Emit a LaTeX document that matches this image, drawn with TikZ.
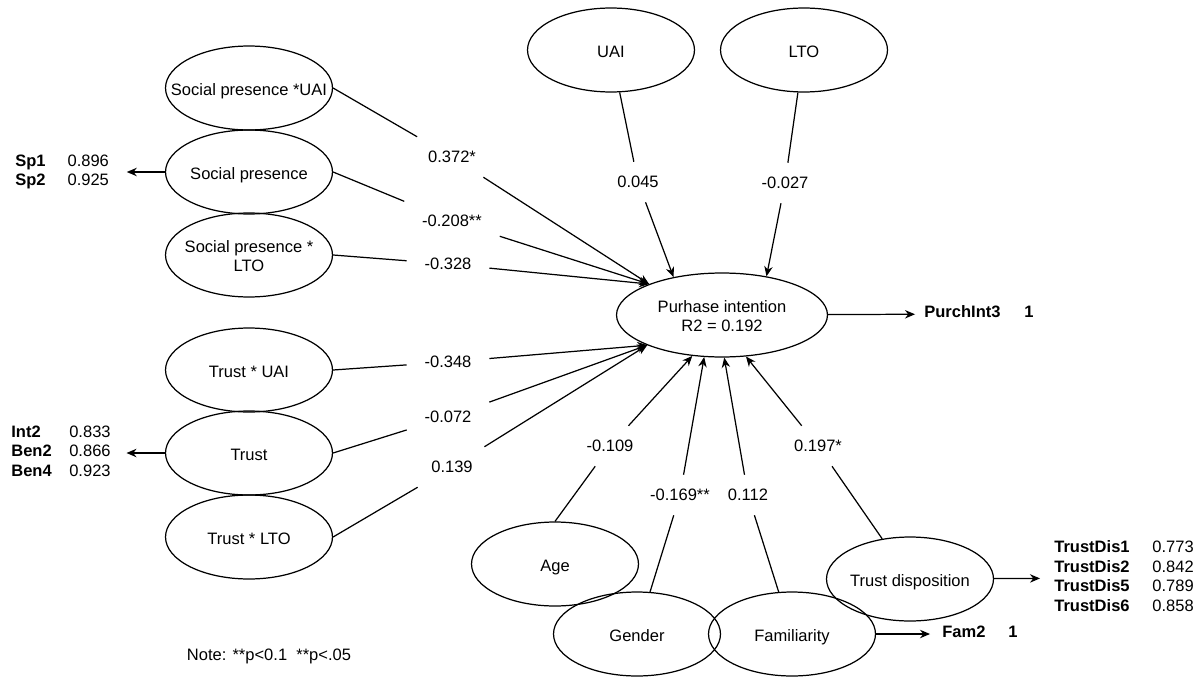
\documentclass[tikz,border=0pt]{standalone}
\usepackage{fontspec}
\setmainfont{Liberation Sans}
\usetikzlibrary{shapes.geometric,arrows.meta}

\newcommand{\elltext}[1]{\makebox[0pt]{\raisebox{-4pt}[0pt][0pt]{\begin{tabular}{@{}c@{}}#1\end{tabular}}}}

\tikzset{
  latent/.style={ellipse, draw, line width=0.7pt, inner sep=0pt, minimum width=3.34cm, minimum height=1.68cm},
  coef/.style={inner xsep=10pt, inner ysep=8pt},
  link/.style={line width=0.7pt},
  linkarr/.style={line width=0.7pt, -{Stealth[length=5.7pt,width=4.8pt]}},
  ind/.style={inner sep=0pt, anchor=west}
}

\begin{document}
\begin{tikzpicture}[x=0.02cm, y=-0.02cm, font=\fontsize{9.4}{11.3}\selectfont]
        \useasboundingbox (0,0) rectangle (1203,679);
        % constructs
        \node [latent] (spu) at (249,88)  {\elltext{Social presence *UAI}};       %
        \node [latent] (sp)  at (249,172) {\elltext{Social presence}};            %
        \node [latent] (spl) at (249,255) {\elltext{Social presence *\\LTO}};     %
        \node [latent] (tu)  at (249,370) {\elltext{Trust * UAI}};                %
        \node [latent] (tr)  at (249,453) {\elltext{Trust}};                      %
        \node [latent] (tl)  at (249,537) {\elltext{Trust * LTO}};                %
        \node [latent] (uai) at (611,50)  {\elltext{UAI}};                        %
        \node [latent] (lto) at (804,50)  {\elltext{LTO}};                        %
        \node [latent, minimum width=4.22cm] (pi) at (722,315) {\elltext{Purhase intention\\R2 = 0.192}};
        \node [latent] (age) at (555,564) {\elltext{Age}};                        %
        \node [latent] (gen) at (637,634) {\elltext{Gender}};                     %
        \node [latent] (fam) at (792,634) {\elltext{Familiarity}};                %
        \node [latent] (td)  at (910,579) {\elltext{Trust disposition}};          %

        % indicators
        \node [ind] (spind) at (15,172)   {\begin{tabular}{@{}l@{\hspace{12.5pt}}l@{}}\textbf{Sp1}&0.896\\\textbf{Sp2}&0.925\end{tabular}};
        \node [ind] (trind) at (11,453)   {\begin{tabular}{@{}l@{\hspace{10pt}}l@{}}\textbf{Int2}&0.833\\\textbf{Ben2}&0.866\\\textbf{Ben4}&0.923\end{tabular}};
        \node [ind] (piind) at (924,314)  {\begin{tabular}{@{}l@{\hspace{13.5pt}}l@{}}\textbf{PurchInt3}&\textbf{1}\end{tabular}};
        \node [ind] (faind) at (942,634)  {\begin{tabular}{@{}l@{\hspace{13pt}}l@{}}\textbf{Fam2}&\textbf{1}\end{tabular}};
        \node [ind] (tdind) at (1054,578) {\begin{tabular}{@{}l@{\hspace{13pt}}l@{}}\textbf{TrustDis1}&0.773\\\textbf{TrustDis2}&0.842\\\textbf{TrustDis5}&0.789\\\textbf{TrustDis6}&0.858\end{tabular}};
        \draw [linkarr, shorten >=0.35cm] (sp) -- (spind);                       %
        \draw [linkarr, shorten >=0.31cm] (tr) -- (trind);                       %
        \draw [linkarr, shorten >=0.18cm] (pi) -- (piind);                       %
        \draw [linkarr, shorten >=0.24cm] (fam) -- (faind);                      %
        \draw [linkarr, shorten >=0.28cm] (td) -- (tdind);                       %

        % path coefficients
        \node [coef] (cspu) at (452,157) {0.372*};                              %
        \node [coef] (csp)  at (452,221) {-0.208**};                            %
        \node [coef] (cspl) at (448,264) {-0.328};                              %
        \node [coef] (ctu)  at (448,362) {-0.348};                              %
        \node [coef] (ctr)  at (448,417) {-0.072};                              %
        \node [coef] (ctl)  at (452,467) {0.139};                               %
        \node [coef] (cuai) at (638,182) {0.045};                               %
        \node [coef] (clto) at (785,183) {-0.027};                              %
        \node [coef] (cage) at (610,446) {-0.109};                              %
        \node [coef] (cgen) at (680,495) {-0.169**};                            %
        \node [coef] (cfam) at (748,495) {0.112};                               %
        \node [coef] (ctd)  at (818,446) {0.197*};                              %

        \draw [link] (spu.east) -- (cspu);  \draw [linkarr] (cspu) -- (pi.157); %
        \draw [link] (sp.east)  -- (csp);   \draw [linkarr] (csp)  -- (pi.157); %
        \draw [link] (spl.east) -- (cspl);  \draw [linkarr] (cspl) -- (pi.157); %
        \draw [link] (tu.east)  -- (ctu);   \draw [linkarr] (ctu)  -- (pi.202); %
        \draw [link] (tr.east)  -- (ctr);   \draw [linkarr] (ctr)  -- (pi.202); %
        \draw [link] (tl.east)  -- (ctl);   \draw [linkarr] (ctl)  -- (pi.202); %
        \draw [link] (uai)      -- (cuai);  \draw [linkarr] (cuai) -- (pi.142); %
        \draw [link] (lto)      -- (clto);  \draw [linkarr] (clto) -- (pi.41);  %
        \draw [link] (age.north) -- (cage); \draw [linkarr] (cage) -- (pi.234); %
        \draw [link] (gen)      -- (cgen);  \draw [linkarr] (cgen) -- (pi.247); %
        \draw [link] (fam)      -- (cfam);  \draw [linkarr] (cfam) -- (pi.273); %
        \draw [link] (td)       -- (ctd);   \draw [linkarr] (ctd)  -- (pi.300); %

        \node (note) at (269,656) {Note: **p<0.1\ \ **p<.05};                   %
\end{tikzpicture}
\end{document}
